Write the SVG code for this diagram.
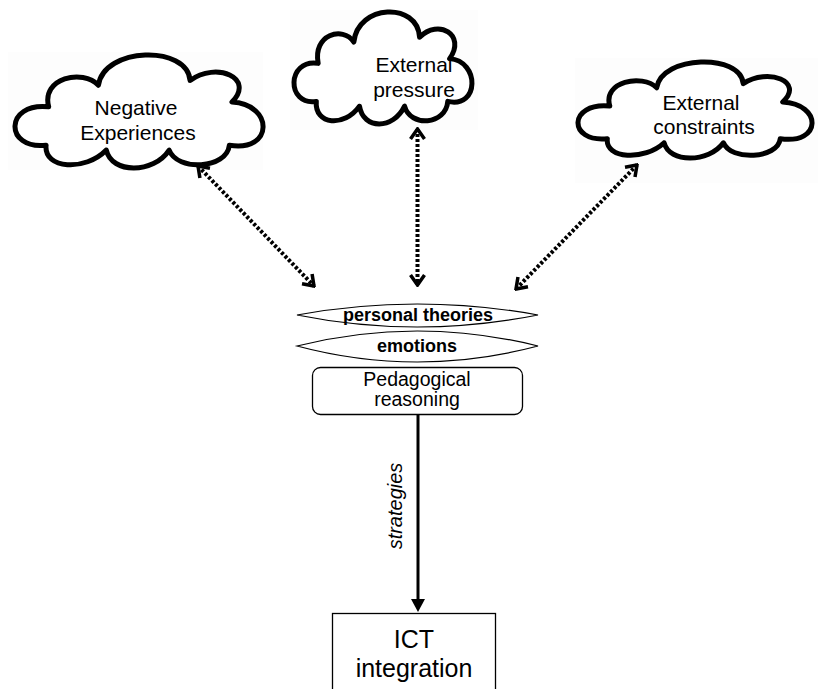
<svg xmlns="http://www.w3.org/2000/svg" width="818" height="689" viewBox="0 0 818 689">
  <defs>
    <style>
      .cloud { fill: #ffffff; stroke: #000; stroke-width: 5; stroke-linejoin: round; stroke-linecap: round; }
      .cloud-bg { fill: #fdfdfd; }
      .label { font-family: "Liberation Sans", Arial, sans-serif; fill: #000; text-anchor: middle; }
      .big { font-size: 21px; }
      .mid { font-size: 19.5px; }
      .bold { font-size: 18px; font-weight: bold; }
      .lens { fill: #fff; stroke: #000; stroke-width: 1.2; }
      .box { fill: #fff; stroke: #000; stroke-width: 1.3; }
      .dotted { fill: none; stroke: #000; stroke-width: 4; stroke-dasharray: 3 2; }
      .solid { fill: none; stroke: #000; stroke-width: 3; }
    </style>
    <!-- one cloud outline, reused and scaled per node -->
    <path id="cloudShape" class="cloud" vector-effect="non-scaling-stroke" d="M 30 80 C -2 84, -2 44, 32 48 C 26 24, 58 16, 70 30 C 74 -2, 138 -4, 140 26 C 160 10, 190 24, 172 44 C 204 46, 204 86, 170 80 C 168 100, 130 102, 124 84 C 112 104, 80 104, 76 84 C 60 102, 28 100, 30 80 Z"/>
    <marker id="chevron" viewBox="-14 -10 16 20" markerWidth="16" markerHeight="20" refX="0" refY="0" markerUnits="userSpaceOnUse" orient="auto-start-reverse">
      <path d="M -10 -7 L 0 0 L -10 7" fill="none" stroke="#000" stroke-width="3.5" stroke-linejoin="miter"/>
    </marker>
  </defs>

  <rect width="818" height="689" fill="#fff"/>

  <!-- influence clouds -->
  <g id="negative-experiences">
    <rect class="cloud-bg" x="8" y="52" width="255" height="118"/>
    <use href="#cloudShape" transform="translate(6.82 49.30) scale(1.309 1.199)"/>
    <text class="label big" x="136" y="115">Negative</text>
    <text class="label big" x="138" y="140">Experiences</text>
  </g>

  <g id="external-pressure">
    <rect class="cloud-bg" x="290" y="10" width="188" height="120"/>
    <use href="#cloudShape" transform="translate(288.13 6.36) scale(0.939 1.188)"/>
    <text class="label big" x="414" y="72">External</text>
    <text class="label big" x="414" y="97">pressure</text>
  </g>

  <g id="external-constraints">
    <rect class="cloud-bg" x="575" y="58" width="243" height="125"/>
    <use href="#cloudShape" transform="translate(570.28 57.16) scale(1.235 1.019)"/>
    <text class="label big" x="701" y="110">External</text>
    <text class="label big" x="704" y="134">constraints</text>
  </g>

  <!-- central stack -->
  <g id="personal-theories">
    <path class="lens" d="M 297 315 Q 417 293 538 315 Q 417 339 297 315 Z"/>
    <text class="label bold" x="418" y="321">personal theories</text>
  </g>

  <g id="emotions">
    <path class="lens" d="M 297 346 Q 417 316 538 346 Q 417 378 297 346 Z"/>
    <text class="label bold" x="417" y="352">emotions</text>
  </g>

  <g id="pedagogical-reasoning">
    <rect class="box" x="312.5" y="367.5" width="210" height="47" rx="8" ry="8"/>
    <text class="label mid" x="417" y="386">Pedagogical</text>
    <text class="label mid" x="417" y="406">reasoning</text>
  </g>

  <g id="ict-integration">
    <rect class="box" x="332.5" y="613.5" width="163" height="90"/>
    <text class="label" style="font-size:25px" x="414" y="648">ICT</text>
    <text class="label" style="font-size:25px" x="414" y="677">integration</text>
  </g>

  <!-- connectors -->
  <g id="connectors">
    <line class="dotted" x1="198" y1="166" x2="314" y2="286" marker-start="url(#chevron)" marker-end="url(#chevron)"/>
    <line class="dotted" x1="417.5" y1="129" x2="417.5" y2="285" marker-start="url(#chevron)" marker-end="url(#chevron)"/>
    <line class="dotted" x1="637" y1="165" x2="516" y2="289" marker-start="url(#chevron)" marker-end="url(#chevron)"/>
    <line class="solid" x1="418" y1="415" x2="418" y2="600"/>
    <path d="M 411 599 L 425 599 L 418 612 Z" fill="#000"/>
    <text class="label" style="font-size:20px; font-style:italic" transform="translate(402 506) rotate(-90)">strategies</text>
  </g>
</svg>
